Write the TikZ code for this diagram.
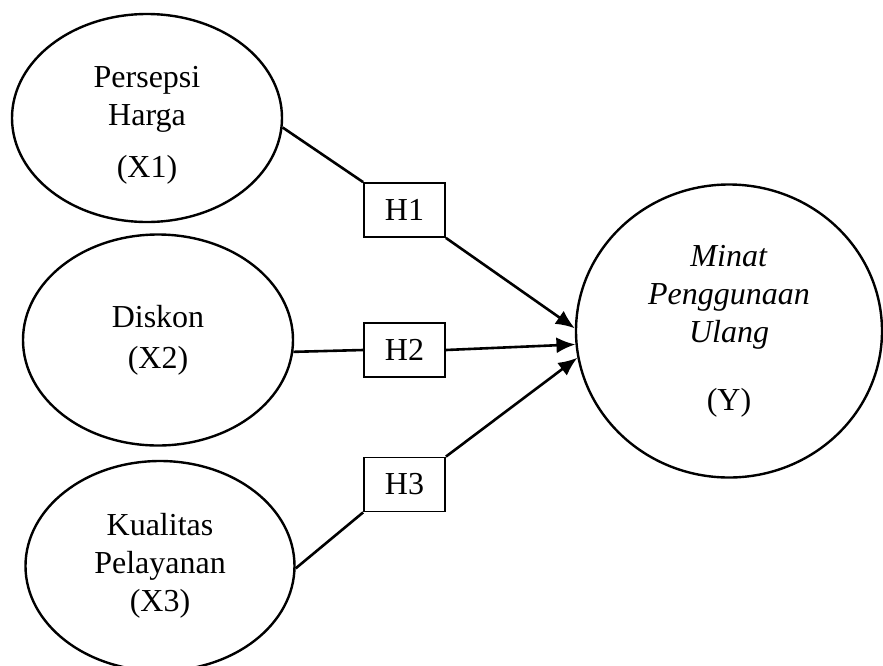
\documentclass[tikz,border=0pt]{standalone}
\usepackage{fontspec}
\setmainfont{Liberation Serif}
\usetikzlibrary{shapes.geometric,arrows.meta}
\tikzset{var/.style={draw, ellipse, line width=2.4pt, inner sep=0pt, align=center,
                     font=\fontsize{32}{38}\selectfont},
         txt/.style={inner sep=0pt, align=center, font=\fontsize{32}{38}\selectfont},
         hyp/.style={draw, rectangle, line width=1.8pt, inner sep=0pt,
                     minimum width=81pt, minimum height=54pt, font=\fontsize{32}{36}\selectfont},
         link/.style={line width=2.6pt},
         arr/.style={line width=2.6pt, -{Latex[length=19pt,width=16pt]}}}

\begin{document}
\begin{tikzpicture}[x=1pt, y=-1pt]
             \useasboundingbox (0,0) rectangle (883,665);

             \node (X1) [var, minimum width=270pt, minimum height=208pt] at (147,118) {};
             \node (X1t) [txt] at ([yshift=-7pt]X1.center) {Persepsi\\Harga\\[14pt](X1)};
             \node (X2) [var, minimum width=270pt, minimum height=211pt] at (158,340)
                   {Diskon\\[3pt](X2)};
             \node (X3) [var, minimum width=269pt, minimum height=210pt] at (160,566)
                   {Kualitas\\Pelayanan\\(X3)};

             \node (Y) [var, minimum width=306pt, minimum height=293pt] at (729,331)
                   {\textit{Minat}\\\textit{Penggunaan}\\\textit{Ulang}\\[30pt](Y)};

             \node (H1) [hyp] at (404.5,210) {H1};
             \node (H2) [hyp] at (404.5,350) {H2};
             \node (H3) [hyp] at (404.5,484.5) {H3};

             \draw [link] (X1.-4) -- (H1.north west);
             \draw [arr]  (H1.south east) -- (Y.179);

             \draw [link] (X2.-5) -- (H2.west);
             \draw [arr]  (H2.east) -- (Y.185);

             \draw [link] (X3.-1) -- (H3.south west);
             \draw [arr]  (H3.north east) -- (Y.190);
\end{tikzpicture}
\end{document}
